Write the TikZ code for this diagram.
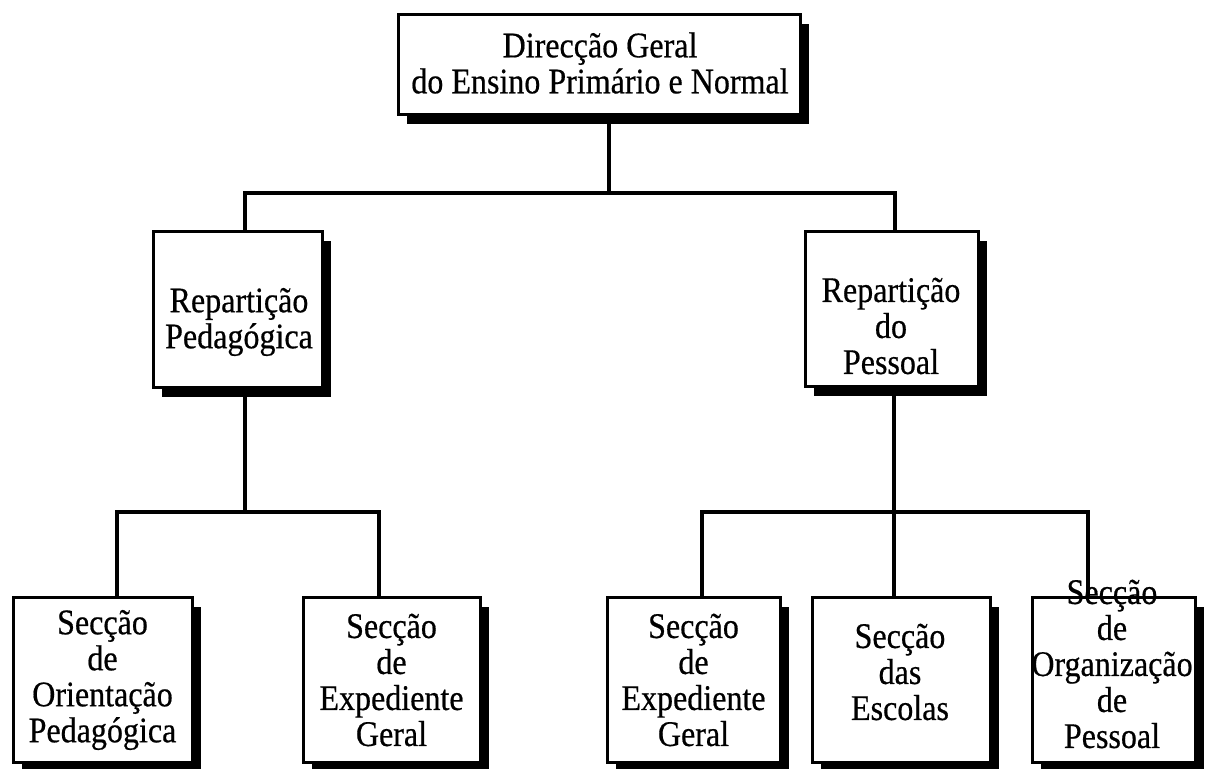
\documentclass[tikz,border=0pt]{standalone}
\usepackage{fontspec}
\setmainfont{Liberation Serif}[FakeStretch=0.89,FakeBold=0.5]
\usetikzlibrary{shadows}
\begin{document}
\begin{tikzpicture}[x=0.5pt,y=-0.5pt,
  box/.style={draw=black, line width=1.5pt, fill=white, inner sep=0pt,
    drop shadow={shadow xshift=4.5pt, shadow yshift=-4.5pt, opacity=1, fill=black}},
  txt/.style={align=center, font=\fontsize{18}{18}\selectfont, inner sep=0pt},
  conn/.style={line width=2pt}]
\useasboundingbox (0,0) rectangle (1206,769);
% boxes
\node[box, minimum width=201pt, minimum height=50pt] (top) at (599,65) {};
\node[box, minimum width=84.5pt, minimum height=78pt] (repL) at (237.5,310) {};
\node[box, minimum width=86.5pt, minimum height=77.5pt] (repR) at (891.5,309.5) {};
\node[box, minimum width=89.5pt, minimum height=82.5pt] (s1) at (102.5,680.5) {};
\node[box, minimum width=88.5pt, minimum height=82.5pt] (s2) at (391.5,680.5) {};
\node[box, minimum width=86.5pt, minimum height=82.5pt] (s3) at (693.5,680.5) {};
\node[box, minimum width=89pt, minimum height=82.5pt] (s4) at (901,680.5) {};
\node[box, minimum width=81.5pt, minimum height=82.5pt] (s5) at (1113.5,680.5) {};
% texts
\node[txt] (ttop) at (600,63) {Direcção Geral\\do Ensino Primário e Normal};
\node[txt] (trepL) at (239,322) {Repartição\\Pedagógica};
\node[txt] (trepR) at (891,326) {Repartição\\do\\Pessoal};
\node[txt] (t1) at (102.5,680) {Secção\\de\\Orientação\\Pedagógica};
\node[txt] (t2) at (391.5,680) {Secção\\de\\Expediente\\Geral};
\node[txt] (t3) at (693.5,680) {Secção\\de\\Expediente\\Geral};
\node[txt] (t4) at (900,672) {Secção\\das\\Escolas};
\node[txt] (t5) at (1112,664) {Secção\\de\\Organização\\de\\Pessoal};
% junctions
\coordinate (jT) at (609,193);
\coordinate (jL) at (245,193);
\coordinate (jR) at (895,193);
\coordinate (kL) at (245,512);
\coordinate (k1) at (117,512);
\coordinate (k2) at (379,512);
\coordinate (kR) at (894,512);
\coordinate (k3) at (702,512);
\coordinate (k4) at (1088,512);
% connectors
\draw[conn] (top.south -| jT) -- (jT);
\draw[conn] (repL.north -| jL) -- (jL) -- (jR) -- (repR.north -| jR);
\draw[conn] (repL.south -| kL) -- (kL);
\draw[conn] (s1.north -| k1) -- (k1) -- (k2) -- (s2.north -| k2);
\draw[conn] (repR.south -| kR) -- (kR) -- (s4.north -| kR);
\draw[conn] (s3.north -| k3) -- (k3) -- (k4) -- (s5.north -| k4);
\end{tikzpicture}
\end{document}
